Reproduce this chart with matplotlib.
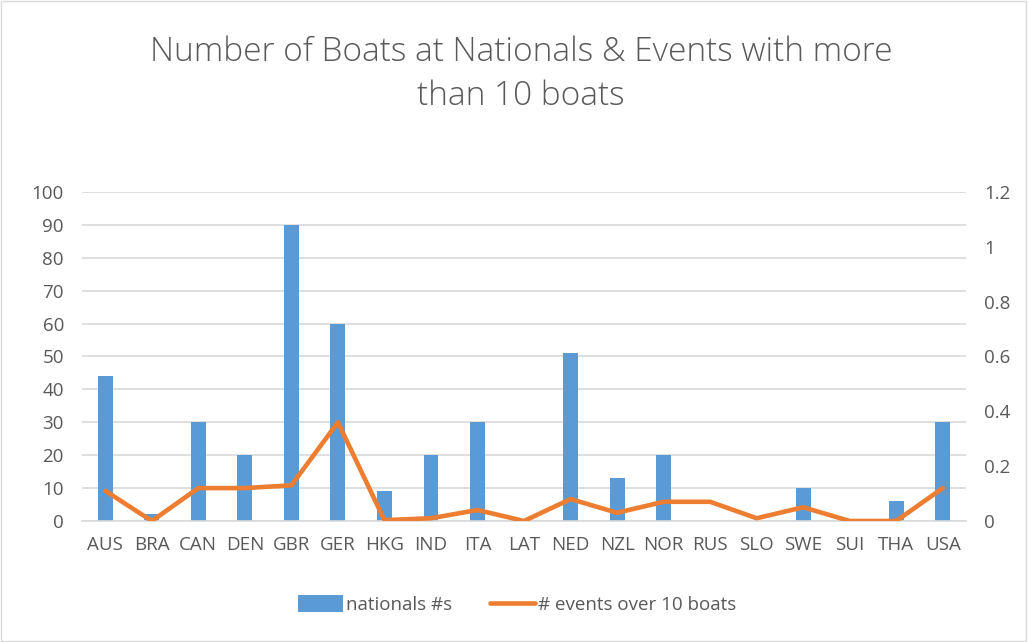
import numpy as np
import matplotlib.pyplot as plt
from matplotlib.patches import Rectangle

countries = ["AUS", "BRA", "CAN", "DEN", "GBR", "GER", "HKG", "IND", "ITA", "LAT",
             "NED", "NZL", "NOR", "RUS", "SLO", "SWE", "SUI", "THA", "USA"]
nationals = [44, 2, 30, 20, 90, 60, 9, 20, 30, 0, 51, 13, 20, 0, 0, 10, 0, 6, 30]
events_over_10 = [0.11, 0.0, 0.12, 0.12, 0.13, 0.36, 0.003, 0.01, 0.04, 0.0,
                  0.08, 0.03, 0.07, 0.07, 0.01, 0.05, 0.0, 0.0, 0.12]

TEXT = "#595959"
GRID = "#d9d9d9"
BLUE = "#5b9bd5"
ORANGE = "#ed7d31"

plt.rcParams['font.family'] = ['Open Sans', 'DejaVu Sans']

fig = plt.figure(figsize=(10.28, 6.42), dpi=100)
ax = fig.add_axes([0.0798, 0.1885, 0.8599, 0.5125])
ax2 = ax.twinx()

x = np.arange(len(countries))
bars = ax.bar(x, nationals, width=0.32, color=BLUE, zorder=2, label="nationals #s")
line, = ax2.plot(x, events_over_10, color=ORANGE, lw=3.3, solid_capstyle='round',
                 solid_joinstyle='round', zorder=3, label="# events over 10 boats")

ax.set_xlim(-0.5, len(countries) - 0.5)
ax.set_ylim(0, 100)
ax2.set_ylim(0, 1.2)
ax.set_yticks(np.arange(0, 101, 10))
ax2.set_yticks(np.arange(0, 1.21, 0.2))
ax2.set_yticklabels(["0", "0.2", "0.4", "0.6", "0.8", "1", "1.2"])
ax.set_xticks(x)
ax.set_xticklabels(countries)

ax.yaxis.grid(True, color=GRID, lw=1.2, zorder=0)
ax.set_axisbelow(True)
for a in (ax, ax2):
    for s in a.spines.values():
        s.set_visible(False)
    a.tick_params(length=0, labelsize=13.5, colors=TEXT)
ax.spines['bottom'].set_visible(True)
ax.spines['bottom'].set_color(GRID)
ax.spines['bottom'].set_linewidth(1.2)
ax.tick_params(axis='x', pad=11)
ax.tick_params(axis='y', pad=13)
ax2.tick_params(axis='y', pad=13)

fig.text(0.507, 0.884, "Number of Boats at Nationals & Events with more\nthan 10 boats",
         ha='center', va='center', fontsize=24, color=TEXT, linespacing=1.4,
         fontweight='light')

fig.legend(handles=[bars, line], loc='center', bbox_to_anchor=(0.503, 0.058), ncol=2,
           frameon=False, fontsize=13.5, labelcolor=TEXT, handlelength=2.4,
           handleheight=1.0, handletextpad=0.15, columnspacing=2.0)

fig.patches.append(Rectangle((0.001, 0.002), 0.997, 0.996, transform=fig.transFigure,
                             fill=False, edgecolor=GRID, lw=1))

fig.savefig("out.png", dpi=100)
